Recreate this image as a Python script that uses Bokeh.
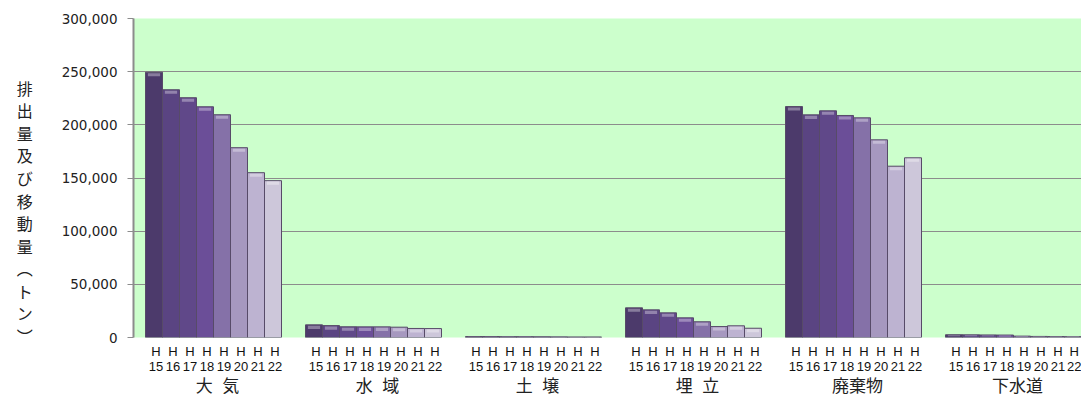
from bokeh.plotting import figure
from bokeh.models import Range1d, LinearAxis, FixedTicker, NumeralTickFormatter, ColumnDataSource
from bokeh.embed import file_html
from bokeh.resources import INLINE

# ---- data ----
groups = ["大\u00a0\u00a0気", "水\u00a0\u00a0域", "土\u00a0\u00a0壌", "埋\u00a0\u00a0立", "廃棄物", "下水道"]
years = ["H15", "H16", "H17", "H18", "H19", "H20", "H21", "H22"]
taiki = [249500, 233000, 225500, 217000, 209500, 178500, 155000, 147500]
suiiki = [11900, 11200, 10100, 10000, 10000, 9700, 8500, 8400]
dojo = [900, 900, 800, 800, 700, 600, 500, 500]
umetate = [27900, 26000, 23200, 18500, 14800, 10300, 11000, 8700]
haikibutsu = [217200, 209400, 213200, 208800, 206600, 185900, 161100, 169000]
gesuido = [2600, 2500, 2400, 2300, 1300, 1000, 900, 800]
year_colors = ["#4c3a6b", "#5a4482", "#604889", "#6b4e98", "#8571a8", "#a698bf", "#bdb3d1", "#cdc7da"]

series = [taiki, suiiki, dojo, umetate, haikibutsu, gesuido]

# ---- layout / style constants ----
GROUP_PAD = 12 / 160
BAR_W = 17 / 160
YEAR_LABEL_SHIFT = 2 / 160
GROUP_LABEL_SHIFT = 4 / 160
CAP = 3800  # height of the glossy cap, in value units


def lighten(hx, f):
    r, g, b = int(hx[1:3], 16), int(hx[3:5], 16), int(hx[5:7], 16)
    r, g, b = [int(c + (255 - c) * f) for c in (r, g, b)]
    return "#%02x%02x%02x" % (r, g, b)


xs, tops, cols, cap_b, cap_t, cap_c = [], [], [], [], [], []
for g, vals in enumerate(series):
    for j, v in enumerate(vals):
        x = g + GROUP_PAD + BAR_W * (j + 0.5)
        xs.append(x)
        tops.append(v)
        cols.append(year_colors[j])
        cap_b.append(max(v - CAP, v * 0.45))
        cap_t.append(v - min(900, v * 0.2))
        cap_c.append(lighten(year_colors[j], 0.4))
src = ColumnDataSource(dict(x=xs, top=tops, color=cols, cb=cap_b, ct=cap_t, cc=cap_c))

p = figure(width=1081, height=398, x_range=Range1d(0, 948 / 160), y_range=Range1d(0, 300000),
           x_axis_type=None, output_backend="svg", toolbar_location=None,
           min_border_left=133, min_border_right=0, min_border_top=18, min_border_bottom=61,
           background_fill_color="#ccffcc", border_fill_color="white", outline_line_color=None)

p.vbar(x="x", top="top", bottom=0, width=BAR_W, fill_color="color", line_color="#574b68",
       line_width=1, source=src)
p.vbar(x="x", top="ct", bottom="cb", width=BAR_W * 0.72, fill_color="cc", line_color=None,
       fill_alpha=0.85, source=src)

# y axis
yax = p.yaxis[0]
yax.ticker = FixedTicker(ticks=[0, 50000, 100000, 150000, 200000, 250000, 300000])
yax.formatter = NumeralTickFormatter(format="0,0")
yax.axis_line_color = "#8c8c8c"
yax.axis_line_width = 2
yax.major_tick_line_color = "#8c8c8c"
yax.major_tick_line_width = 1
yax.major_tick_out = 6
yax.major_tick_in = 0
yax.minor_tick_line_color = None
yax.major_label_standoff = 10
yax.major_label_text_font = "DejaVu Sans"
yax.major_label_text_font_size = "13.5px"
yax.major_label_text_color = "#222222"
yax.axis_label = "\n\n\n" + "\n".join(list("排出量及び移動量")) + "\n\ufe35\nト\nン\n\ufe36"
yax.axis_label_orientation = "horizontal"
yax.axis_label_text_font = "Noto Sans CJK JP"
yax.axis_label_text_font_size = "16px"
yax.axis_label_text_font_style = "normal"
yax.axis_label_text_line_height = 0.94
yax.axis_label_text_color = "#222222"
yax.axis_label_standoff = 26

p.ygrid.grid_line_color = "#8c8c8c"
p.ygrid.grid_line_width = 1
p.xgrid.visible = False

# year axis
year_ticks = []
year_labels = {}
for g in range(len(groups)):
    for j, y in enumerate(years):
        t = g + GROUP_PAD + BAR_W * (j + 0.5) + YEAR_LABEL_SHIFT
        year_ticks.append(t)
        year_labels[t] = y[0] + "\n" + y[1:]
xa = LinearAxis(ticker=FixedTicker(ticks=year_ticks), major_label_overrides=year_labels)
xa.axis_line_color = None
xa.major_tick_line_color = None
xa.minor_tick_line_color = None
xa.major_tick_out = 0
xa.major_tick_in = 0
xa.major_label_standoff = 6
xa.major_label_text_font = "Liberation Sans"
xa.major_label_text_font_size = "13px"
xa.major_label_text_line_height = 1.0
xa.major_label_text_color = "#111111"
p.add_layout(xa, "below")

# group axis
g_ticks = [g + 0.5 + GROUP_LABEL_SHIFT for g in range(len(groups))]
ga = LinearAxis(ticker=FixedTicker(ticks=g_ticks), major_label_overrides=dict(zip(g_ticks, groups)))
ga.axis_line_color = None
ga.major_tick_line_color = None
ga.minor_tick_line_color = None
ga.major_tick_out = 0
ga.major_tick_in = 0
ga.major_label_standoff = 0
ga.major_label_text_font = "Liberation Sans, 'Noto Sans CJK JP'"
ga.major_label_text_font_size = "17px"
ga.major_label_text_line_height = 1.0
ga.major_label_text_color = "#222222"
p.add_layout(ga, "below")

open("out.html", "w").write(file_html(p, INLINE))
